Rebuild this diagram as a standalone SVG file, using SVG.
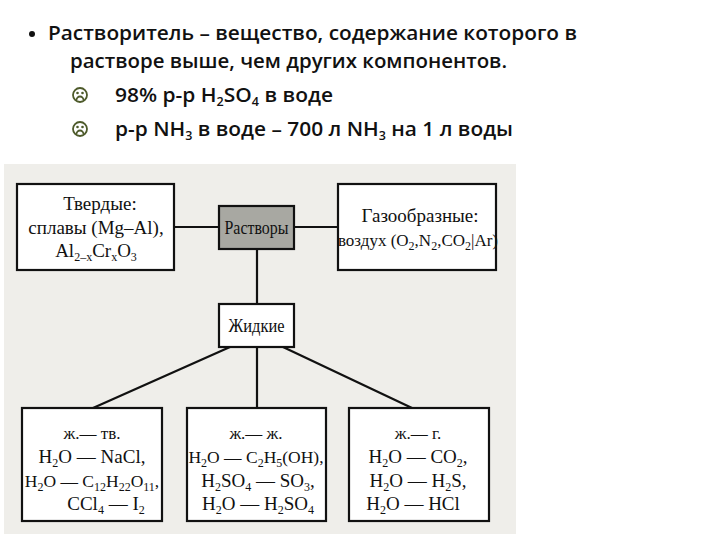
<svg xmlns="http://www.w3.org/2000/svg" width="720" height="540" viewBox="0 0 720 540">
<style>
.h{font-family:"Open Sans","Liberation Sans",sans-serif;font-size:20px;font-weight:600;fill:#111}
.t{font-family:"Liberation Serif","DejaVu Serif",serif;font-size:19px;fill:#111;text-anchor:middle}
.b{fill:#fff;stroke:#111;stroke-width:2.2}
.c{stroke:#111;stroke-width:2.2;fill:none}
.s{font-size:12px}
</style>
<rect width="720" height="540" fill="#fff"/>
<circle cx="32" cy="34" r="3" fill="#111"/>
<text class="h" x="48" y="40" textLength="529" lengthAdjust="spacingAndGlyphs">Растворитель – вещество, содержание которого в</text>
<text class="h" x="70" y="68" textLength="437" lengthAdjust="spacingAndGlyphs">растворе выше, чем других компонентов.</text>
<g fill="none" stroke="#4d5a2a" stroke-width="1.8">
<circle cx="80" cy="95" r="7"/><circle cx="80" cy="129" r="7"/>
<path d="M76.5 100a3.5 3.5 0 0 1 7 0M76.5 134a3.5 3.5 0 0 1 7 0"/>
</g>
<g fill="#4d5a2a"><circle cx="77.5" cy="93" r="1.3"/><circle cx="82.5" cy="93" r="1.3"/><circle cx="77.5" cy="127" r="1.3"/><circle cx="82.5" cy="127" r="1.3"/></g>
<text class="h" x="115" y="102" textLength="218" lengthAdjust="spacingAndGlyphs">98% р-р H<tspan class="s" dy="4">2</tspan><tspan dy="-4">SO</tspan><tspan class="s" dy="4">4</tspan><tspan dy="-4"> в воде</tspan></text>
<text class="h" x="115" y="136" textLength="398" lengthAdjust="spacingAndGlyphs">р-р NH<tspan class="s" dy="4">3</tspan><tspan dy="-4"> в воде – 700 л NH</tspan><tspan class="s" dy="4">3</tspan><tspan dy="-4"> на 1 л воды</tspan></text>
<rect x="4" y="164" width="512" height="370" fill="#efeeea"/>
<g id="connectors" class="c">
<path d="M174 227H219M294 227H338M257 249V304"/>
<path d="M230 347L93 408M257 347V408M283 347L412 408"/>
</g>
<g id="tverdye"><rect class="b" x="17" y="184" width="157" height="86"/>
<text class="t" x="100" y="210">Твердые:</text>
<text class="t" x="96" y="234">сплавы (Mg–Al),</text>
<text class="t" x="96" y="257">Al<tspan class="s" dy="4">2–x</tspan><tspan dy="-4">Cr</tspan><tspan class="s" dy="4">x</tspan><tspan dy="-4">O</tspan><tspan class="s" dy="4">3</tspan></text></g>
<g id="rastvory"><rect x="219" y="206" width="75" height="43" fill="#a8a8a2" stroke="#111" stroke-width="2.2"/>
<text class="t" x="256.5" y="234" style="font-size:18px" textLength="64" lengthAdjust="spacingAndGlyphs">Растворы</text></g>
<g id="gaz"><rect class="b" x="338" y="184" width="158" height="86"/>
<text class="t" x="420" y="222">Газообразные:</text>
<text class="t" x="418" y="246" style="font-size:17px">воздух (O<tspan class="s" dy="4">2</tspan><tspan dy="-4">,N</tspan><tspan class="s" dy="4">2</tspan><tspan dy="-4">,CO</tspan><tspan class="s" dy="4">2</tspan><tspan dy="-4">|Ar)</tspan></text></g>
<g id="zhidkie"><rect class="b" x="219" y="304" width="75" height="43"/>
<text class="t" x="256.5" y="332" style="font-size:18px" textLength="56" lengthAdjust="spacingAndGlyphs">Жидкие</text></g>
<g id="zh-tv"><rect class="b" x="22" y="408" width="140" height="113"/>
<text class="t" x="92" y="439" style="font-size:17px">ж.— тв.</text>
<text class="t" x="92" y="463">H<tspan class="s" dy="4">2</tspan><tspan dy="-4">O — NaCl,</tspan></text>
<text class="t" x="92" y="487" style="font-size:17.5px">H<tspan class="s" dy="4">2</tspan><tspan dy="-4">O — C</tspan><tspan class="s" dy="4">12</tspan><tspan dy="-4">H</tspan><tspan class="s" dy="4">22</tspan><tspan dy="-4">O</tspan><tspan class="s" dy="4">11</tspan><tspan dy="-4">,</tspan></text>
<text class="t" x="106" y="510">CCl<tspan class="s" dy="4">4</tspan><tspan dy="-4"> — I</tspan><tspan class="s" dy="4">2</tspan></text></g>
<g id="zh-zh"><rect class="b" x="187" y="408" width="139" height="113"/>
<text class="t" x="256" y="439" style="font-size:17px">ж.— ж.</text>
<text class="t" x="256" y="463" style="font-size:17.5px">H<tspan class="s" dy="4">2</tspan><tspan dy="-4">O — C</tspan><tspan class="s" dy="4">2</tspan><tspan dy="-4">H</tspan><tspan class="s" dy="4">5</tspan><tspan dy="-4">(OH),</tspan></text>
<text class="t" x="258" y="487">H<tspan class="s" dy="4">2</tspan><tspan dy="-4">SO</tspan><tspan class="s" dy="4">4</tspan><tspan dy="-4"> — SO</tspan><tspan class="s" dy="4">3</tspan><tspan dy="-4">,</tspan></text>
<text class="t" x="258" y="510">H<tspan class="s" dy="4">2</tspan><tspan dy="-4">O — H</tspan><tspan class="s" dy="4">2</tspan><tspan dy="-4">SO</tspan><tspan class="s" dy="4">4</tspan></text></g>
<g id="zh-g"><rect class="b" x="349" y="408" width="140" height="113"/>
<text class="t" x="418" y="439" style="font-size:17px">ж.— г.</text>
<text class="t" x="418" y="463">H<tspan class="s" dy="4">2</tspan><tspan dy="-4">O — CO</tspan><tspan class="s" dy="4">2</tspan><tspan dy="-4">,</tspan></text>
<text class="t" x="418" y="487">H<tspan class="s" dy="4">2</tspan><tspan dy="-4">O — H</tspan><tspan class="s" dy="4">2</tspan><tspan dy="-4">S,</tspan></text>
<text class="t" x="413" y="510">H<tspan class="s" dy="4">2</tspan><tspan dy="-4">O — HCl</tspan></text></g>
</svg>
